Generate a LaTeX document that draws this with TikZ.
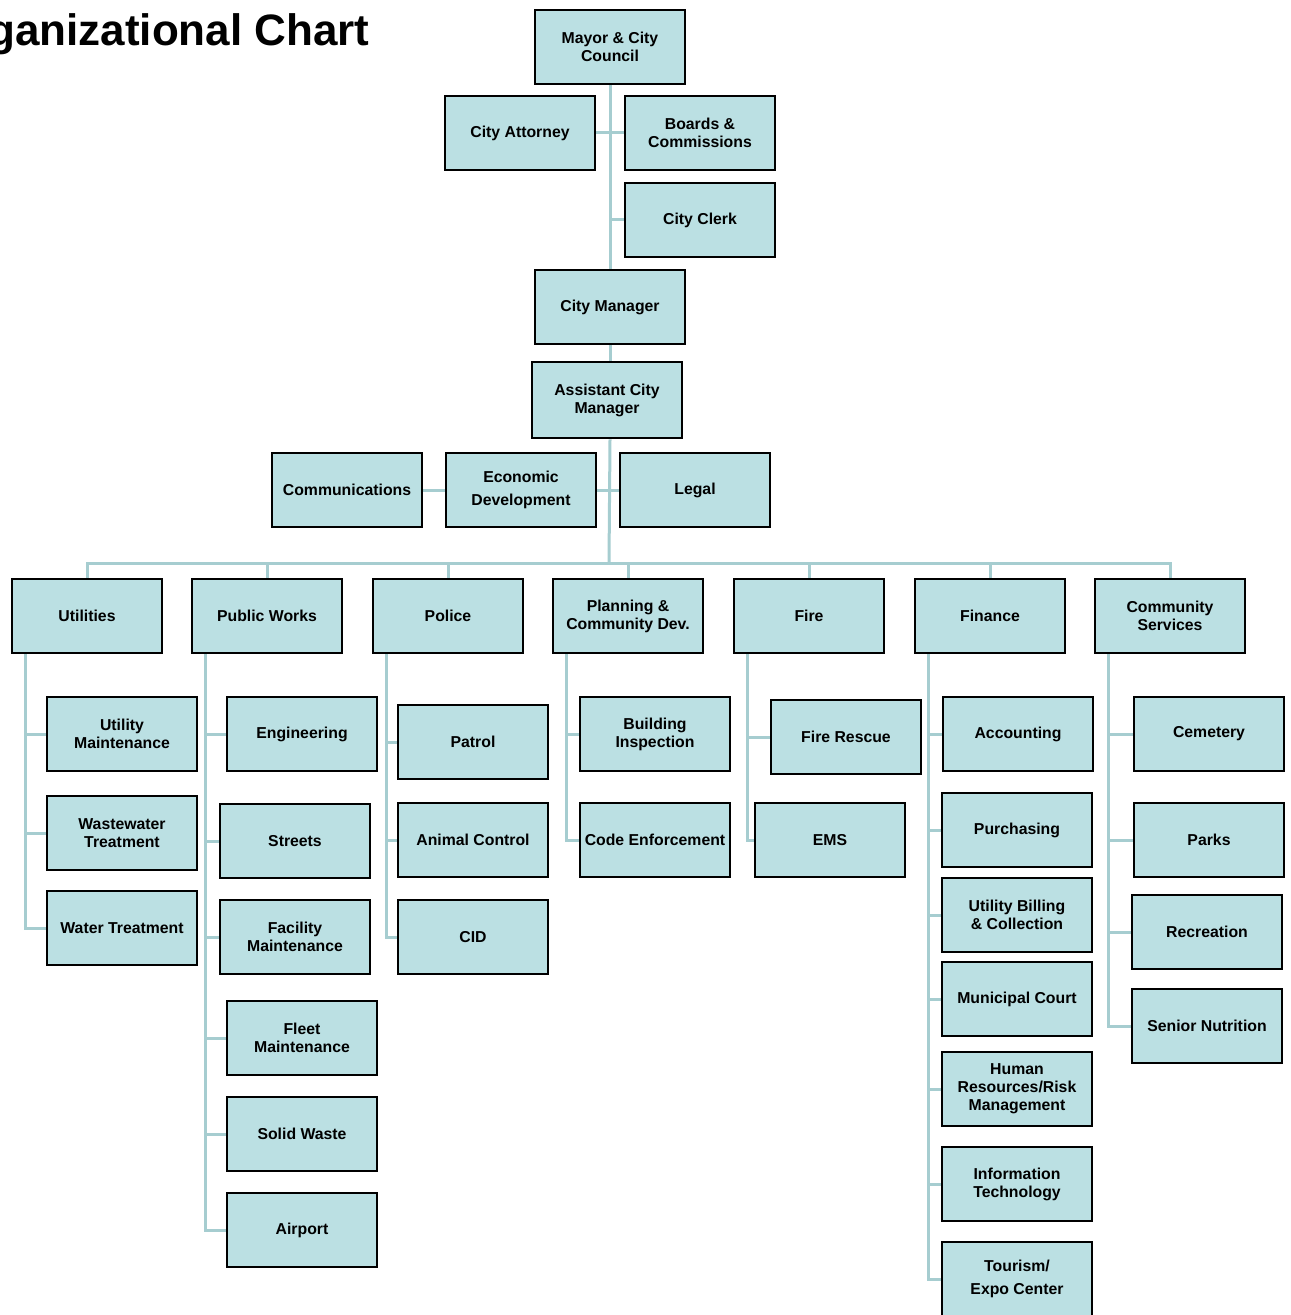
\documentclass[tikz,border=0pt]{standalone}
\usepackage{fontspec}
\setmainfont{Liberation Sans}
\definecolor{boxfill}{RGB}{187,224,227}
\definecolor{linecol}{RGB}{166,205,208}
\pgfdeclarelayer{bg}
\pgfsetlayers{bg,main}
\begin{document}
\begin{tikzpicture}[x=0.5pt,y=-0.5pt,
  box/.style={draw=black, line width=1.35pt, fill=boxfill, minimum width=75pt,
    minimum height=37pt, inner sep=0pt, align=center,
    font=\fontsize{7.9}{9}\selectfont\bfseries},
  conn/.style={draw=linecol, line width=1.5pt},
  titlestyle/.style={anchor=base east, inner sep=0pt, font=\fontsize{22}{26}\selectfont\bfseries}]
\useasboundingbox (0,0) rectangle (1290,1315);
\clip (0,0) rectangle (1290,1315);
\node[titlestyle] (title) at (370,46) {Organizational Chart};

% top levels
\node[box] (mayor) at (610,47) {Mayor \& City\\Council};
\node[box] (atty) at (520,133) {City Attorney};
\node[box] (boards) at (700,133) {Boards \&\\Commissions};
\node[box] (clerk) at (700,220) {City Clerk};
\node[box] (cm) at (610,307) {City Manager};
\node[box, minimum height=38pt] (acm) at (607,400) {Assistant City\\Manager};
\node[box] (comm) at (347,490) {Communications};
\node[box] (eco) at (521,490) {Economic\\[2.5pt]Development};
\node[box] (legal) at (695,490) {Legal};
\coordinate (bus) at (609,563);

% departments
\node[box] (util) at (87,616) {Utilities};
\node[box] (pw) at (267,616) {Public Works};
\node[box] (police) at (448,616) {Police};
\node[box] (plan) at (628,616) {Planning \&\\Community Dev.};
\node[box] (fire) at (809,616) {Fire};
\node[box] (fin) at (990,616) {Finance};
\node[box] (cs) at (1170,616) {Community\\Services};

% utilities
\node[box] (um) at (122,734) {Utility\\Maintenance};
\node[box] (ww) at (122,833) {Wastewater\\Treatment};
\node[box] (wt) at (122,928) {Water Treatment};
% public works
\node[box] (eng) at (302,734) {Engineering};
\node[box] (str) at (295,841) {Streets};
\node[box] (fac) at (295,937) {Facility\\Maintenance};
\node[box] (fleet) at (302,1038) {Fleet\\Maintenance};
\node[box] (sw) at (302,1134) {Solid Waste};
\node[box] (air) at (302,1230) {Airport};
% police
\node[box] (pat) at (473,742) {Patrol};
\node[box] (ac) at (473,840) {Animal Control};
\node[box] (cid) at (473,937) {CID};
% planning
\node[box] (bi) at (655,734) {Building\\Inspection};
\node[box] (ce) at (655,840) {Code Enforcement};
% fire
\node[box] (fr) at (846,737) {Fire Rescue};
\node[box] (ems) at (830,840) {EMS};
% finance
\node[box] (acc) at (1018,734) {Accounting};
\node[box] (pur) at (1017,830) {Purchasing};
\node[box] (ub) at (1017,915) {Utility Billing\\\& Collection};
\node[box] (mc) at (1017,999) {Municipal Court};
\node[box] (hr) at (1017,1089) {Human\\Resources/Risk\\Management};
\node[box] (it) at (1017,1184) {Information\\Technology};
\node[box] (tour) at (1017,1279) {Tourism/\\[2.5pt]Expo Center};
% community services
\node[box] (cem) at (1209,734) {Cemetery};
\node[box] (parks) at (1209,840) {Parks};
\node[box] (rec) at (1207,932) {Recreation};
\node[box] (sen) at (1207,1026) {Senior Nutrition};

\begin{pgfonlayer}{bg}
% trunk
\draw[conn] (mayor.south) -- (mayor.south |- cm.north);
\draw[conn] (cm.south) -- (cm.south |- acm.north);
\draw[conn] (cm.south |- acm.south) -- (bus);
\draw[conn] (atty.east) -- (boards.west);
\draw[conn] (clerk.west) -- (clerk.west -| mayor.south);
\draw[conn] (comm.east) -- (eco.west);
\draw[conn] (eco.east) -- (legal.west);
% bus to departments
\foreach \d in {util,pw,police,plan,fire,fin,cs}
  \draw[conn] (bus) -| (\d.north);
% children
\foreach \c in {um,ww,wt}
  \draw[conn] ([xshift=7.5pt]util.south west) |- (\c.west);
\foreach \c in {eng,str,fac,fleet,sw,air}
  \draw[conn] ([xshift=7.5pt]pw.south west) |- (\c.west);
\foreach \c in {pat,ac,cid}
  \draw[conn] ([xshift=7.5pt]police.south west) |- (\c.west);
\foreach \c in {bi,ce}
  \draw[conn] ([xshift=7.5pt]plan.south west) |- (\c.west);
\foreach \c in {fr,ems}
  \draw[conn] ([xshift=7.5pt]fire.south west) |- (\c.west);
\foreach \c in {acc,pur,ub,mc,hr,it,tour}
  \draw[conn] ([xshift=7.5pt]fin.south west) |- (\c.west);
\foreach \c in {cem,parks,rec,sen}
  \draw[conn] ([xshift=7.5pt]cs.south west) |- (\c.west);
\end{pgfonlayer}
\end{tikzpicture}
\end{document}
